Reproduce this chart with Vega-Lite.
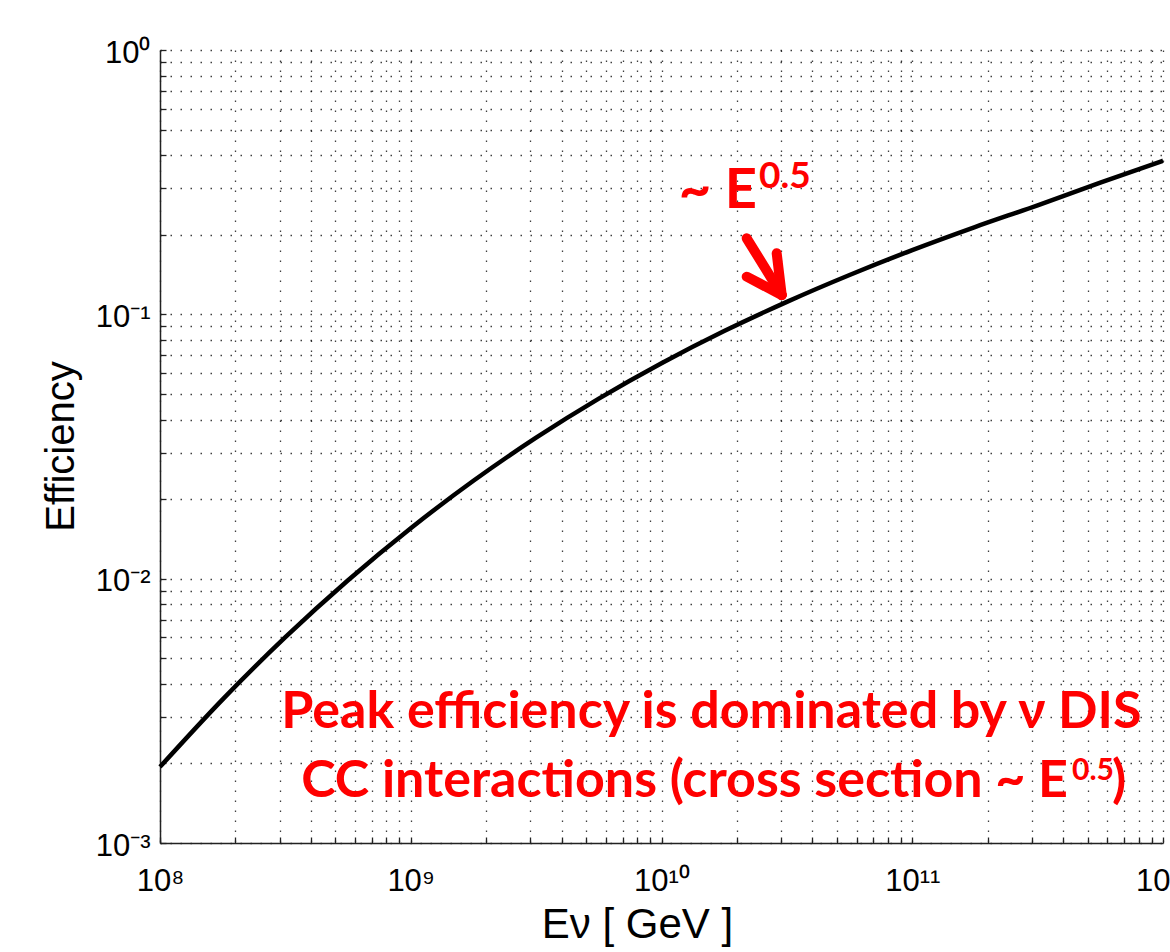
{
  "$schema": "https://vega.github.io/schema/vega-lite/v6.json",
  "width": 1003,
  "height": 793,
  "autosize": {"type": "none"},
  "padding": {"left": 160, "top": 50, "right": 7, "bottom": 109},
  "background": "white",
  "config": {
    "view": {"stroke": null},
    "font": "Liberation Sans"
  },
  "datasets": {
    "curve": [
      {"E": 1e8, "eff": 0.001941},
      {"E": 1.778e8, "eff": 0.003496},
      {"E": 3.162e8, "eff": 0.006008},
      {"E": 5.623e8, "eff": 0.009865},
      {"E": 1e9, "eff": 0.01552},
      {"E": 1.778e9, "eff": 0.02346},
      {"E": 3.162e9, "eff": 0.03414},
      {"E": 5.623e9, "eff": 0.04797},
      {"E": 1e10, "eff": 0.06531},
      {"E": 1.778e10, "eff": 0.08643},
      {"E": 3.162e10, "eff": 0.1115},
      {"E": 5.623e10, "eff": 0.1409},
      {"E": 1e11, "eff": 0.175},
      {"E": 1.778e11, "eff": 0.2139},
      {"E": 3.162e11, "eff": 0.2586},
      {"E": 5.623e11, "eff": 0.315},
      {"E": 1e12, "eff": 0.3811}
    ],
    "arrow": [
      {"E": 2.187e10, "eff": 0.194, "E2": 3.016e10, "eff2": 0.1183},
      {"E": 2.187e10, "eff": 0.1388, "E2": 3.016e10, "eff2": 0.1183},
      {"E": 2.88e10, "eff": 0.1702, "E2": 3.016e10, "eff2": 0.1183}
    ],
    "notes": [
      {"E": 1.582e10, "eff": 0.00272, "text": "Peak efficiency is dominated by ν DIS", "role": "center"},
      {"E": 4.179e11, "eff": 0.001492, "text": "CC interactions (cross section ~ E", "role": "right"},
      {"E": 6.261e11, "eff": 0.001492, "text": ")", "role": "left"}
    ],
    "sups": [
      {"E": 4.336e11, "eff": 0.00173, "text": "0.5"}
    ],
    "bigE": [
      {"E": 2.404e10, "eff": 0.2525, "text": "~ E"}
    ],
    "bigSup": [
      {"E": 2.448e10, "eff": 0.3005, "text": "0.5"}
    ]
  },
  "encoding": {
    "x": {
      "field": "E",
      "type": "quantitative",
      "scale": {"type": "log", "domain": [1e8, 1e12], "nice": false},
      "axis": {
        "title": "Eν  [ GeV ]",
        "titleFont": "Liberation Sans",
        "titleFontSize": 42,
        "titleFontWeight": "normal",
        "titleColor": "black",
        "titleAlign": "center",
        "titleBaseline": "alphabetic",
        "titleX": 477,
        "titleY": 94,
        "values": [1e8,2e8,3e8,4e8,5e8,6e8,7e8,8e8,9e8,1e9,2e9,3e9,4e9,5e9,6e9,7e9,8e9,9e9,1e10,2e10,3e10,4e10,5e10,6e10,7e10,8e10,9e10,1e11,2e11,3e11,4e11,5e11,6e11,7e11,8e11,9e11,1e12],
        "labelExpr": "datum.value==1e8?'10⁸':datum.value==1e9?'10⁹':datum.value==1e10?'10¹⁰':datum.value==1e11?'10¹¹':datum.value==1e12?'10¹²':''",
        "labelFont": "Liberation Sans",
        "labelFontSize": 31,
        "labelColor": "black",
        "labelBaseline": "alphabetic",
        "labelPadding": 53,
        "labelOverlap": false,
        "labelFlush": false,
        "tickSize": -6,
        "tickColor": "#222",
        "tickWidth": 1.3,
        "domainColor": "#222",
        "domainWidth": 1.5,
        "grid": true,
        "gridColor": "#000",
        "gridDash": [1.5, 8.5],
        "gridWidth": 1.3,
        "gridOpacity": 0.75
      }
    },
    "y": {
      "field": "eff",
      "type": "quantitative",
      "scale": {"type": "log", "domain": [0.001, 1], "nice": false},
      "axis": {
        "title": "Efficiency",
        "titleFont": "Liberation Sans",
        "titleFontSize": 40,
        "titleFontWeight": "normal",
        "titleColor": "black",
        "titleAngle": -90,
        "titleAlign": "center",
        "titleBaseline": "alphabetic",
        "titleX": -87,
        "titleY": 396,
        "values": [0.001,0.002,0.003,0.004,0.005,0.006,0.007,0.008,0.009,0.01,0.02,0.03,0.04,0.05,0.06,0.07,0.08,0.09,0.1,0.2,0.3,0.4,0.5,0.6,0.7,0.8,0.9,1],
        "labelExpr": "datum.value==1?'10⁰':datum.value==0.1?'10⁻¹':datum.value==0.01?'10⁻²':datum.value==0.001?'10⁻³':''",
        "labelFont": "Liberation Sans",
        "labelFontSize": 31,
        "labelColor": "black",
        "labelBaseline": "alphabetic",
        "labelAlign": "right",
        "labelPadding": 16,
        "labelOffset": 12,
        "labelOverlap": false,
        "labelFlush": false,
        "tickSize": -6,
        "tickColor": "#222",
        "tickWidth": 1.3,
        "domainColor": "#222",
        "domainWidth": 1.5,
        "grid": true,
        "gridColor": "#000",
        "gridDash": [1.5, 8.5],
        "gridWidth": 1.3,
        "gridOpacity": 0.75
      }
    }
  },
  "layer": [
    {
      "data": {"name": "curve"},
      "mark": {"type": "line", "color": "black", "strokeWidth": 4.5, "interpolate": "monotone"}
    },
    {
      "data": {"name": "arrow"},
      "mark": {"type": "rule", "color": "#ff0000", "strokeWidth": 10, "strokeCap": "round"},
      "encoding": {
        "x2": {"field": "E2"},
        "y2": {"field": "eff2"}
      }
    },
    {
      "data": {"name": "notes"},
      "transform": [{"filter": "datum.role=='center'"}],
      "mark": {"type": "text", "font": "Lato", "fontWeight": "bold", "fontSize": 52, "color": "#ff0000", "align": "center", "baseline": "alphabetic"},
      "encoding": {"text": {"field": "text"}}
    },
    {
      "data": {"name": "notes"},
      "transform": [{"filter": "datum.role=='right'"}],
      "mark": {"type": "text", "font": "Lato", "fontWeight": "bold", "fontSize": 52, "color": "#ff0000", "align": "right", "baseline": "alphabetic"},
      "encoding": {"text": {"field": "text"}}
    },
    {
      "data": {"name": "notes"},
      "transform": [{"filter": "datum.role=='left'"}],
      "mark": {"type": "text", "font": "Lato", "fontWeight": "bold", "fontSize": 52, "color": "#ff0000", "align": "left", "baseline": "alphabetic"},
      "encoding": {"text": {"field": "text"}}
    },
    {
      "data": {"name": "sups"},
      "mark": {"type": "text", "font": "Lato", "fontWeight": "bold", "fontSize": 30, "color": "#ff0000", "align": "left", "baseline": "alphabetic"},
      "encoding": {"text": {"field": "text"}}
    },
    {
      "data": {"name": "bigE"},
      "mark": {"type": "text", "font": "Lato", "fontWeight": "bold", "fontSize": 56, "color": "#ff0000", "align": "right", "baseline": "alphabetic"},
      "encoding": {"text": {"field": "text"}}
    },
    {
      "data": {"name": "bigSup"},
      "mark": {"type": "text", "font": "Lato", "fontWeight": "bold", "fontSize": 37, "color": "#ff0000", "align": "left", "baseline": "alphabetic"},
      "encoding": {"text": {"field": "text"}}
    }
  ]
}
